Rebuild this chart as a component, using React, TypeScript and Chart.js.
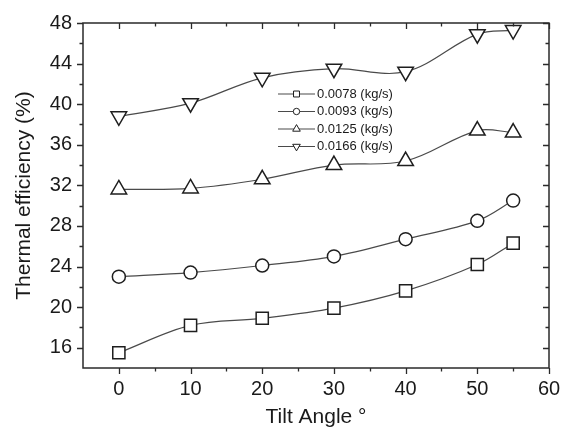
import React, { useEffect, useRef } from "react";
import { Chart, registerables } from "chart.js";

Chart.register(...registerables);

// ---- data ----
const TILT_ANGLES = [0, 10, 20, 30, 40, 50, 55];
const SERIES_LABELS = ["0.0078 (kg/s)", "0.0093 (kg/s)", "0.0125 (kg/s)", "0.0166 (kg/s)"];
const EFF_0078 = [15.5, 18.2, 18.9, 19.9, 21.6, 24.2, 26.3];
const EFF_0093 = [23.0, 23.4, 24.1, 25.0, 26.7, 28.5, 30.5];
const EFF_0125 = [31.6, 31.7, 32.6, 34.0, 34.4, 37.4, 37.2];
const EFF_0166 = [38.8, 40.1, 42.6, 43.5, 43.2, 46.9, 47.3];
const X_TICKS = [0, 10, 20, 30, 40, 50, 60];
const X_MINOR = [5, 15, 25, 35, 45, 55];
const Y_TICKS = [16, 20, 24, 28, 32, 36, 40, 44, 48];
const Y_MINOR = [18, 22, 26, 30, 34, 38, 42, 46];
const X_TITLE = "Tilt Angle °";
const Y_TITLE = "Thermal efficiency (%)";

const FONT = "'Liberation Sans', Arial, sans-serif";
const TEXT_COLOR = "#1a1a1a";
const AXIS_COLOR = "#2a2a2a";
const LINE_COLOR = "#4a4a4a";
const MARKER_COLOR = "#1e1e1e";

type Marker = { style: string; rotation: number; radius: number; legendRadius: number };
const MARKERS: Marker[] = [
  { style: "rect", rotation: 0, radius: 8.6, legendRadius: 4.2 },
  { style: "circle", rotation: 0, radius: 6.5, legendRadius: 3.2 },
  { style: "triangle", rotation: 0, radius: 9, legendRadius: 4.4 },
  { style: "triangle", rotation: 180, radius: 9, legendRadius: 4.4 },
];

function drawMarker(ctx: CanvasRenderingContext2D, m: Marker, x: number, y: number, r: number) {
  ctx.beginPath();
  if (m.style === "rect") {
    const s = r * Math.SQRT1_2;
    ctx.rect(x - s, y - s, 2 * s, 2 * s);
  } else if (m.style === "circle") {
    ctx.arc(x, y, r, 0, Math.PI * 2);
  } else {
    let rad = (m.rotation * Math.PI) / 180;
    ctx.moveTo(x + Math.sin(rad) * r, y - Math.cos(rad) * r);
    rad += (2 * Math.PI) / 3;
    ctx.lineTo(x + Math.sin(rad) * r, y - Math.cos(rad) * r);
    rad += (2 * Math.PI) / 3;
    ctx.lineTo(x + Math.sin(rad) * r, y - Math.cos(rad) * r);
    ctx.closePath();
  }
  ctx.fillStyle = "#ffffff";
  ctx.fill();
  ctx.stroke();
}

const framePlugin = {
  id: "originFrame",
  afterDraw(chart: any) {
    const { ctx, chartArea: a, scales } = chart;
    const xs = scales.x;
    const ys = scales.y;
    ctx.save();
    ctx.strokeStyle = AXIS_COLOR;
    ctx.lineWidth = 1.5;
    ctx.strokeRect(a.left, a.top, a.right - a.left, a.bottom - a.top);
    ctx.lineWidth = 1.3;
    ctx.beginPath();
    const major = 6;
    const minor = 3.5;
    X_TICKS.forEach((v) => {
      const p = Math.round(xs.getPixelForValue(v)) + 0.5;
      ctx.moveTo(p, a.bottom);
      ctx.lineTo(p, a.bottom + major);
      ctx.moveTo(p, a.top);
      ctx.lineTo(p, a.top + major);
    });
    X_MINOR.forEach((v) => {
      const p = Math.round(xs.getPixelForValue(v)) + 0.5;
      ctx.moveTo(p, a.bottom);
      ctx.lineTo(p, a.bottom + minor);
      ctx.moveTo(p, a.top);
      ctx.lineTo(p, a.top + minor);
    });
    Y_TICKS.forEach((v) => {
      const p = Math.round(ys.getPixelForValue(v)) + 0.5;
      ctx.moveTo(a.left, p);
      ctx.lineTo(a.left - major, p);
      ctx.moveTo(a.right, p);
      ctx.lineTo(a.right - major, p);
    });
    Y_MINOR.forEach((v) => {
      const p = Math.round(ys.getPixelForValue(v)) + 0.5;
      ctx.moveTo(a.left, p);
      ctx.lineTo(a.left - minor, p);
      ctx.moveTo(a.right, p);
      ctx.lineTo(a.right - minor, p);
    });
    ctx.stroke();

    // legend inside plot area
    const lx = a.left + 195;
    const ly = a.top + 71;
    const rowH = 17.5;
    ctx.font = `13px ${FONT}`;
    ctx.textBaseline = "middle";
    ctx.textAlign = "left";
    SERIES_LABELS.forEach((label, i) => {
      const y = ly + i * rowH;
      ctx.strokeStyle = LINE_COLOR;
      ctx.lineWidth = 1.2;
      ctx.beginPath();
      ctx.moveTo(lx, y);
      ctx.lineTo(lx + 37, y);
      ctx.stroke();
      ctx.strokeStyle = MARKER_COLOR;
      ctx.lineWidth = 1;
      drawMarker(ctx, MARKERS[i], lx + 18.5, y, MARKERS[i].legendRadius);
      ctx.fillStyle = TEXT_COLOR;
      ctx.fillText(label, lx + 39, y);
    });
    ctx.restore();
  },
};

export default function App() {
  const canvasRef = useRef<HTMLCanvasElement | null>(null);

  useEffect(() => {
    if (!canvasRef.current) return;
    const seriesValues = [EFF_0078, EFF_0093, EFF_0125, EFF_0166];
    const datasets = seriesValues.map((vals, i) => ({
      label: SERIES_LABELS[i],
      data: TILT_ANGLES.map((x, j) => ({ x, y: vals[j] })),
      borderColor: LINE_COLOR,
      borderWidth: 1.2,
      tension: 0.35,
      fill: false,
      pointStyle: MARKERS[i].style as any,
      pointRotation: MARKERS[i].rotation,
      pointRadius: MARKERS[i].radius,
      pointBackgroundColor: "#ffffff",
      pointBorderColor: MARKER_COLOR,
      pointBorderWidth: 1.5,
      clip: false as any,
    }));

    const tickFont = { family: FONT, size: 20 };
    const chart = new Chart(canvasRef.current, {
      type: "line",
      data: { datasets },
      options: {
        animation: false,
        responsive: false,
        maintainAspectRatio: false,
        layout: { padding: { top: 19, right: 23, left: 0, bottom: 0 } },
        plugins: { legend: { display: false }, tooltip: { enabled: false } },
        scales: {
          x: {
            type: "linear",
            min: -5,
            max: 60,
            afterBuildTicks: (s: any) => {
              s.ticks = X_TICKS.map((v) => ({ value: v }));
            },
            afterFit: (s: any) => {
              s.height = 62;
            },
            ticks: { font: tickFont, color: TEXT_COLOR, padding: 9, autoSkip: false, maxRotation: 0 },
            grid: { display: false, drawTicks: false },
            border: { display: false },
            title: {
              display: true,
              text: X_TITLE,
              font: { family: FONT, size: 21 },
              color: TEXT_COLOR,
              padding: { top: 0, bottom: 0 },
            },
          },
          y: {
            type: "linear",
            min: 14,
            max: 48,
            afterBuildTicks: (s: any) => {
              s.ticks = Y_TICKS.map((v) => ({ value: v }));
            },
            afterFit: (s: any) => {
              s.width = 83;
            },
            ticks: { font: tickFont, color: TEXT_COLOR, padding: 11, autoSkip: false },
            grid: { display: false, drawTicks: false },
            border: { display: false },
            title: {
              display: true,
              text: Y_TITLE,
              font: { family: FONT, size: 21 },
              color: TEXT_COLOR,
              padding: { top: 12, bottom: 0 },
            },
          },
        },
      },
      plugins: [framePlugin],
    });
    return () => chart.destroy();
  }, []);

  return (
    <div style={{ position: "absolute", left: 0, top: 0, width: 572, height: 430, background: "#fff" }}>
      <canvas ref={canvasRef} width={572} height={430} style={{ display: "block" }} />
    </div>
  );
}
